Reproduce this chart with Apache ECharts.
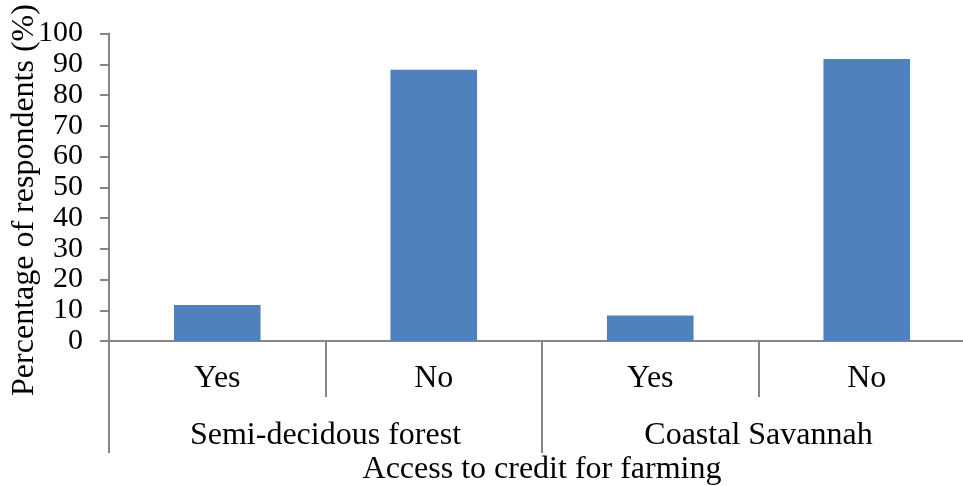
<!DOCTYPE html>
<html>
<head>
<meta charset="utf-8">
<script src="https://cdn.jsdelivr.net/npm/echarts@6/dist/echarts.min.js"></script>
<style>
    html, body { margin: 0; padding: 0; background: #fff; }
    #main { width: 963px; height: 486px; }
</style>
</head>
<body>
<div id="main"></div>
<script>
var answers = ['Yes', 'No', 'Yes', 'No'];
var zones = ['Semi-decidous forest', 'Coastal Savannah'];
var percents = [11.7, 88.2, 8.3, 91.7];
var yTicks = [0, 10, 20, 30, 40, 50, 60, 70, 80, 90, 100];

var font = 'Liberation Serif';
var lineColor = '#868686';

var myChart = echarts.init(document.getElementById('main'));
var option = {
    backgroundColor: '#fff',
    animation: false,
    grid: {
        left: 109,
        right: -12,
        top: 33.5,
        bottom: 145,
        outerBoundsMode: 'none'
    },
    graphic: [
        {
            // y axis title, placed by hand so it sits like the original
            type: 'text',
            x: 25,
            y: 200,
            rotation: Math.PI / 2,
            style: {
                text: 'Percentage of respondents (%)',
                fontFamily: font,
                fontSize: 32,
                fill: '#000',
                align: 'center',
                verticalAlign: 'middle'
            }
        }
    ],
    xAxis: [
        {
            type: 'category',
            data: answers,
            axisLine: { show: true, lineStyle: { color: lineColor, width: 2 } },
            axisTick: { show: true, alignWithLabel: false, length: 56, lineStyle: { color: lineColor, width: 2 } },
            axisLabel: { margin: 22, fontFamily: font, fontSize: 32, color: '#000' },
            name: 'Access to credit for farming',
            nameLocation: 'middle',
            nameGap: 113,
            nameTextStyle: { fontFamily: font, fontSize: 32, color: '#000' }
        },
        {
            type: 'category',
            position: 'bottom',
            data: zones,
            axisLine: { show: false },
            axisTick: { show: true, alignWithLabel: false, length: 112, lineStyle: { color: lineColor, width: 2 } },
            axisLabel: { margin: 79, fontFamily: font, fontSize: 32, color: '#000' }
        }
    ],
    yAxis: {
        type: 'value',
        min: yTicks[0],
        max: yTicks[yTicks.length - 1],
        interval: 10,
        splitLine: { show: false },
        axisLine: { show: true, lineStyle: { color: lineColor, width: 2 } },
        axisTick: { show: true, inside: false, length: 9, lineStyle: { color: lineColor, width: 2 } },
        axisLabel: {
            margin: 26, fontFamily: font, fontSize: 30, color: '#000',
            showMinLabel: true, showMaxLabel: true, hideOverlap: false
        }
    },
    series: [
        {
            type: 'bar',
            xAxisIndex: 0,
            data: percents,
            barWidth: '40%',
            itemStyle: { color: '#4f81bd' }
        }
    ]
};
myChart.setOption(option);
</script>
</body>
</html>
